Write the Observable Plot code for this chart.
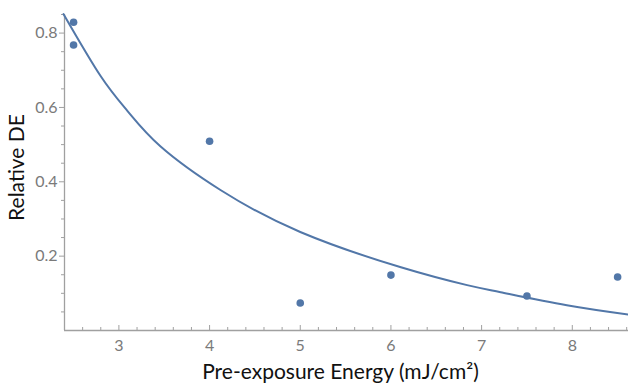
<!DOCTYPE html>
<html>
<head>
<meta charset="utf-8">
<script src="https://cdn.jsdelivr.net/npm/d3@7"></script>
<script src="https://cdn.jsdelivr.net/npm/@observablehq/plot@0.6"></script>
<style>
  html, body { margin: 0; padding: 0; background: #fff; }
  #chart svg { display: block; }
</style>
</head>
<body>
<div id="chart"></div>
<script>
// Measured data points
const energy = [2.5, 2.5, 4, 5, 6, 7.5, 8.5];
const relDE  = [0.829, 0.768, 0.509, 0.074, 0.149, 0.093, 0.144];

// Fitted curve
const fitX = [2.39, 2.80, 3.10, 3.46, 4.12, 5.00, 6.11, 6.84, 7.21, 7.94, 8.62];
const fitY = [0.851, 0.684, 0.589, 0.495, 0.378, 0.265, 0.170, 0.122, 0.103, 0.068, 0.043];

// Ticks
const xMajor = [3, 4, 5, 6, 7, 8];
const xMinor = [2.4, 2.6, 2.8, 3.2, 3.4, 3.6, 3.8, 4.2, 4.4, 4.6, 4.8, 5.2, 5.4, 5.6, 5.8, 6.2, 6.4, 6.6, 6.8, 7.2, 7.4, 7.6, 7.8, 8.2, 8.4, 8.6];
const yMajor = [0.2, 0.4, 0.6, 0.8];
const yMinor = [0.05, 0.1, 0.15, 0.25, 0.3, 0.35, 0.45, 0.5, 0.55, 0.65, 0.7, 0.75, 0.85];

const xLabel = "Pre-exposure Energy (mJ/cm²)";
const yLabel = "Relative DE";

const points = energy.map((e, i) => ({x: e, y: relDE[i]}));
const fit = fitX.map((x, i) => ({x, y: fitY[i]}));

const blue = "#5277a8";
const axisGray = "#a0a0a0";
const font = "Lato, sans-serif";

const chart = Plot.plot({
  width: 628,
  height: 387,
  marginLeft: 64,
  marginRight: 0,
  marginTop: 14,
  marginBottom: 57,
  style: {fontFamily: font, background: "#fff"},
  x: {domain: [2.4, 8.62]},
  y: {domain: [0, 0.85]},
  marks: [
    // axis lines
    Plot.ruleY([0], {stroke: axisGray, strokeWidth: 1.3}),
    Plot.ruleX([2.4], {stroke: axisGray, strokeWidth: 1.3}),
    // inward ticks on x axis
    Plot.ruleX(xMajor, {y1: 0, y2: 0, insetBottom: 5, stroke: axisGray}),
    Plot.ruleX(xMinor, {y1: 0, y2: 0, insetBottom: 3, stroke: axisGray}),
    // inward ticks on y axis
    Plot.ruleY(yMajor, {x1: 2.4, x2: 2.4, insetRight: 5, stroke: axisGray}),
    Plot.ruleY(yMinor, {x1: 2.4, x2: 2.4, insetRight: 3, stroke: axisGray}),
    // tick labels
    Plot.axisX(xMajor, {tickSize: 0, tickPadding: 9, fontSize: 16, fill: "#7a7a7a", label: null, fontFamily: font}),
    Plot.axisY(yMajor, {tickSize: 0, tickPadding: 7, fontSize: 16, fill: "#7a7a7a", label: null, tickFormat: d3.format(".1f"), fontFamily: font}),
    // axis titles
    Plot.text([xLabel], {frameAnchor: "bottom", textAnchor: "middle", lineAnchor: "middle", text: d => d, dy: 42, dx: -6, fontSize: 21, fill: "#111", fontFamily: font}),
    Plot.text([yLabel], {frameAnchor: "left", textAnchor: "middle", lineAnchor: "middle", text: d => d, rotate: -90, dx: -47, dy: -5, fontSize: 21, fill: "#111", fontFamily: font}),
    // fit curve
    Plot.line(fit, {x: "x", y: "y", stroke: blue, strokeWidth: 2, curve: "natural"}),
    // data points
    Plot.dot(points, {x: "x", y: "y", r: 3.8, fill: blue, stroke: "none"})
  ]
});
document.getElementById("chart").appendChild(chart);
</script>
</body>
</html>
